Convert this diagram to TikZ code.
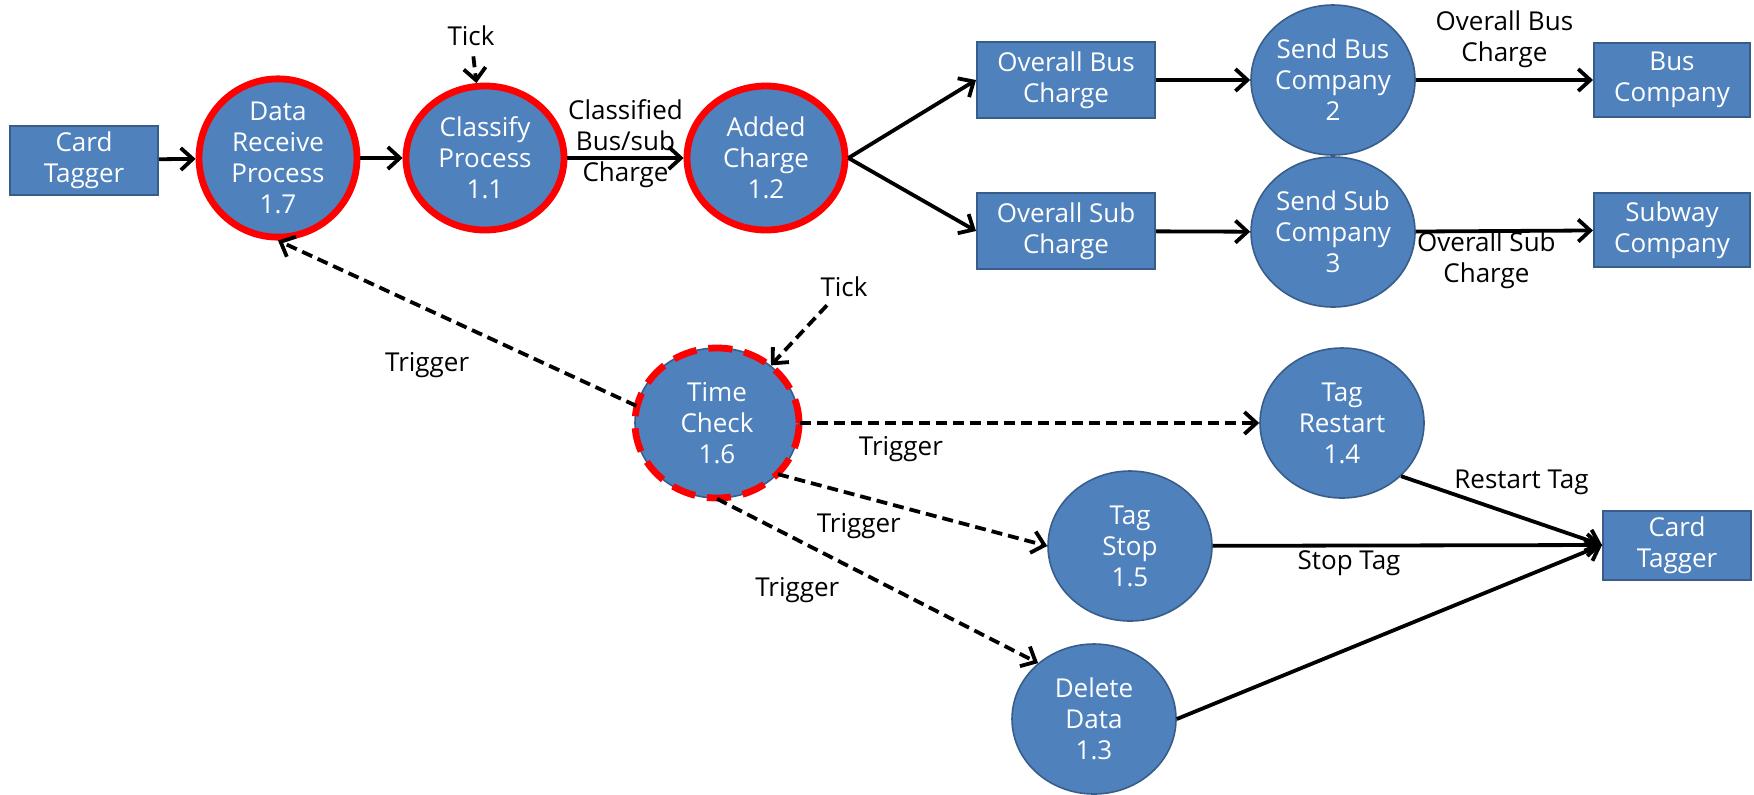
\documentclass[tikz,border=0pt]{standalone}
\usepackage{fontspec}
\setmainfont{Open Sans}
\usetikzlibrary{arrows.meta,shapes.geometric}
\definecolor{pBlue}{RGB}{79,129,189}
\definecolor{pEdge}{RGB}{56,93,138}
\definecolor{pRed}{RGB}{255,0,0}
\tikzset{
    txt/.style={font=\fontsize{13}{15.5}\selectfont, align=center},
    proc/.style={txt, ellipse, draw=pEdge, line width=0.8pt, fill=pBlue, text=white, inner sep=0pt, minimum width=82pt, minimum height=75pt},
    procred/.style={proc, draw=pRed, line width=3.4pt, minimum width=79pt, minimum height=72pt},
    procdash/.style={proc, postaction={draw=pRed, line width=3.4pt, dash pattern=on 12pt off 6pt}},
    store/.style={txt, rectangle, draw=pEdge, line width=1pt, fill=pBlue, text=white, inner sep=0pt},
    flow/.style={line width=1.9pt, -{Straight Barb[length=6pt,width=11pt]}},
    trig/.style={flow, dash pattern=on 5.5pt off 3pt},
    lab/.style={txt, text=black, inner sep=1pt}
}
\begin{document}
\begin{tikzpicture}[x=0.5pt,y=-0.5pt]
\useasboundingbox (0,0) rectangle (1754,794);
\node[store, minimum width=74pt, minimum height=34.5pt] (cardL) at (84,160) {Card\\Tagger};
\node[procred] (recv) at (278,158) {Data\\Receive\\Process\\1.7};
\node[procred] (clsf) at (485,158) {Classify\\Process\\1.1};
\node[procred] (addc) at (766,158) {Added\\Charge\\1.2};
\node[store, minimum width=89pt, minimum height=38pt] (busc) at (1066,80) {Overall Bus\\Charge};
\node[store, minimum width=89pt, minimum height=38pt] (subc) at (1066,231) {Overall Sub\\Charge};
\node[proc] (sbus) at (1333,80) {Send Bus\\Company\\2};
\node[proc] (ssub) at (1333,232) {Send Sub\\Company\\3};
\node[store, minimum width=78pt, minimum height=37pt] (buscmp) at (1672,80) {Bus\\Company};
\node[store, minimum width=78pt, minimum height=37pt] (subcmp) at (1672,230) {Subway\\Company};
\node[procdash] (time) at (717,423) {Time\\Check\\1.6};
\node[proc] (rest) at (1342,423) {Tag\\Restart\\1.4};
\node[proc] (stop) at (1130,546) {Tag\\Stop\\1.5};
\node[proc] (del) at (1094,719) {Delete\\Data\\1.3};
\node[store, minimum width=74pt, minimum height=34.5pt] (cardR) at (1677,545) {Card\\Tagger};
\node[lab] (tickA) at (471,36) {Tick};
\node[lab] (tickB) at (844,287) {Tick};

\draw[flow] (cardL) -- (recv);
\draw[flow] (recv) -- (clsf);
\draw[flow] (clsf) -- node[lab, yshift=7pt] {Classified\\Bus/sub\\Charge} (addc);
\draw[flow] (addc.east) -- (busc.west);
\draw[flow] (addc.east) -- (subc.west);
\draw[flow] (busc) -- (sbus);
\draw[flow] (subc) -- (ssub);
\draw[flow] (sbus) -- node[lab, yshift=20.5pt] {Overall Bus\\Charge} (buscmp);
\draw[flow] (ssub) -- node[lab, xshift=-9pt, yshift=-14.5pt] {Overall Sub\\Charge} (subcmp);
\draw[trig, shorten <=4pt] (tickA) -- (clsf);
\draw[trig, shorten <=4pt] (tickB) -- (time);
\draw[trig] (time.168) -- node[lab, xshift=-15pt, yshift=-21pt] {Trigger} (recv.south);
\draw[trig] (time) -- node[lab, pos=0.22, yshift=-13pt] {Trigger} (rest);
\draw[trig] (time.-40) -- node[lab, pos=0.3, yshift=-15pt] {Trigger} (stop.west);
\draw[trig] (time.south) -- node[lab, pos=0.25, yshift=-25pt] {Trigger} (del.135);
\draw[flow] (rest.-42) -- node[lab, xshift=10pt, yshift=14pt] {Restart Tag} (cardR.west);
\draw[flow] (stop) -- node[lab, pos=0.35, yshift=-9pt] {Stop Tag} (cardR.west);
\draw[flow] (del.east) -- (cardR.west);
\end{tikzpicture}
\end{document}
